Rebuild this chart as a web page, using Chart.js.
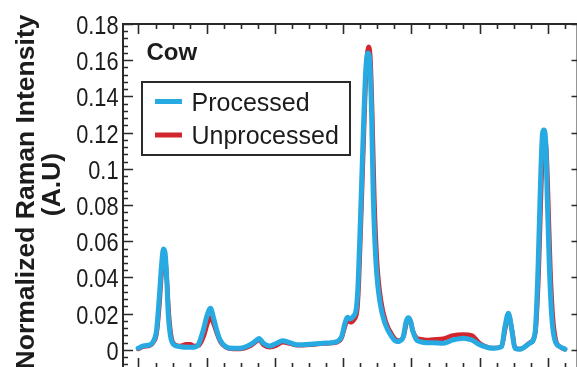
<!DOCTYPE html>
<html><head><meta charset="utf-8">
<script src="https://cdn.jsdelivr.net/npm/chart.js@4.4.0/dist/chart.umd.min.js"></script>
<style>html,body{margin:0;padding:0;overflow:hidden;background:#fff;width:577px;height:367px}canvas{display:block}</style>
</head><body><canvas id="c" width="580" height="372"></canvas>
<script>
const panelLabel = 'Cow';
const yAxisTitle = ['Normalized Raman Intensity', '(A.U)'];
const seriesNames = ['Processed', 'Unprocessed'];
const seriesColors = ['#27aae1', '#d2262e'];
const yTickValues = [0, 0.02, 0.04, 0.06, 0.08, 0.1, 0.12, 0.14, 0.16, 0.18];
const yTickLabels = ['0', '0.02', '0.04', '0.06', '0.08', '0.1', '0.12', '0.14', '0.16', '0.18'];
const xMajorTicks = [400, 600, 800, 1000, 1200, 1400, 1600];

const processedX = [399,414,434,443,453,461,468,473,478,483,487,494,504,522,541,561,575,590,600,611,619,629,639,653,678,697,727,741,753,766,785,805,822,844,864,903,941,981,995,1005,1012,1020,1029,1039,1044,1051,1059,1066,1072,1078,1083,1088,1096,1108,1122,1142,1157,1166,1176,1184,1191,1197,1203,1215,1225,1244,1264,1293,1322,1352,1376,1401,1440,1464,1474,1484,1494,1503,1518,1547,1562,1571,1578,1584,1588,1594,1598,1604,1611,1620,1635,1650];
const processedY = [0.0009,0.0022,0.0028,0.0046,0.011,0.0294,0.0479,0.0557,0.0535,0.0386,0.0204,0.0073,0.0028,0.0018,0.0015,0.0015,0.0028,0.011,0.0184,0.023,0.0184,0.011,0.0055,0.0022,0.0009,0.0009,0.0028,0.0046,0.0063,0.0037,0.0022,0.0037,0.005,0.004,0.0028,0.0031,0.0037,0.0046,0.0073,0.0147,0.018,0.0171,0.0184,0.0239,0.0386,0.0756,0.1214,0.1546,0.164,0.1584,0.1308,0.0846,0.048,0.0259,0.0149,0.0073,0.0046,0.005,0.0073,0.0155,0.0177,0.016,0.011,0.0055,0.0046,0.0039,0.004,0.0037,0.0055,0.0065,0.0055,0.0028,0.0009,0.0018,0.0129,0.0203,0.011,0.0009,0.0004,0.0037,0.0092,0.046,0.092,0.1196,0.1214,0.1122,0.0828,0.046,0.0184,0.0055,0.0018,0.0004];

const unprocessedX = [399,414,434,443,453,461,468,474,479,484,489,496,506,522,540,552,563,577,592,602,612,620,630,640,655,678,697,727,741,753,766,785,805,822,844,864,903,941,981,995,1006,1013,1021,1031,1041,1046,1053,1061,1068,1074,1080,1085,1091,1099,1111,1125,1145,1160,1168,1177,1185,1192,1198,1204,1216,1225,1244,1264,1293,1322,1352,1376,1401,1440,1464,1475,1485,1495,1504,1518,1547,1563,1573,1580,1586,1590,1596,1601,1607,1614,1623,1637,1650];
const unprocessedY = [0.0005,0.0018,0.0025,0.004,0.009,0.024,0.043,0.051,0.049,0.036,0.02,0.0075,0.003,0.0022,0.0031,0.0031,0.0022,0.0025,0.008,0.0145,0.018,0.0145,0.009,0.0045,0.0015,0.0005,0.0005,0.0022,0.004,0.0055,0.0028,0.0015,0.0025,0.0042,0.0035,0.0025,0.0028,0.0035,0.0042,0.0065,0.0135,0.0165,0.0152,0.0165,0.022,0.038,0.076,0.122,0.157,0.1675,0.16,0.131,0.085,0.049,0.027,0.0155,0.0078,0.0052,0.0055,0.0075,0.0145,0.017,0.0155,0.0105,0.0065,0.006,0.0055,0.0058,0.0062,0.008,0.0085,0.008,0.0035,0.001,0.0018,0.012,0.019,0.0105,0.0008,0.0005,0.004,0.0095,0.044,0.088,0.115,0.117,0.108,0.081,0.045,0.019,0.0055,0.0015,0.0003];

const toPoints = (xs, ys) => xs.map((x, i) => ({x, y: ys[i]}));

const FONT = '"Liberation Sans", Arial, Helvetica, sans-serif';
const INK = '#1c1c1c';

const framePlugin = {
  id: 'frame',
  afterDraw(chart) {
    const {ctx, chartArea: a, scales: {x, y}} = chart;
    ctx.save();
    // ticks
    ctx.strokeStyle = '#2a2a2a';
    ctx.lineWidth = 1.6;
    ctx.beginPath();
    yTickValues.forEach(v => {
      const py = Math.round(y.getPixelForValue(v)) + 0.5;
      ctx.moveTo(a.left, py); ctx.lineTo(a.left + 10, py);
      ctx.moveTo(a.right, py); ctx.lineTo(a.right - 6, py);
    });
    const yMinor = 0.004;
    for (let k = Math.ceil(y.min / yMinor); k <= Math.floor(y.max / yMinor + 1e-9); k++) {
      if (k % 5 === 0) continue;
      const py = Math.round(y.getPixelForValue(k * yMinor)) + 0.5;
      ctx.moveTo(a.left, py); ctx.lineTo(a.left + 5, py);
    }
    const xMinor = 50;
    for (let k = Math.ceil(x.min / xMinor); k <= Math.floor(x.max / xMinor); k++) {
      const v = k * xMinor;
      const major = xMajorTicks.includes(v);
      const len = major ? 10 : 5;
      const px = Math.round(x.getPixelForValue(v)) + 0.5;
      ctx.moveTo(px, a.top); ctx.lineTo(px, a.top + len);
      ctx.moveTo(px, a.bottom); ctx.lineTo(px, a.bottom - len);
    }
    ctx.stroke();
    // frame
    ctx.lineWidth = 2;
    ctx.strokeRect(a.left, a.top, a.right - a.left, a.bottom - a.top);

    // tick labels
    ctx.fillStyle = INK;
    ctx.font = '25px ' + FONT;
    ctx.textAlign = 'right';
    ctx.textBaseline = 'alphabetic';
    yTickValues.forEach((v, i) => {
      const py = y.getPixelForValue(v);
      ctx.save();
      ctx.translate(118.5, py + 10);
      ctx.scale(0.87, 1);
      ctx.fillText(yTickLabels[i], 0, 0);
      ctx.restore();
    });

    // axis title
    ctx.font = 'bold 26.5px ' + FONT;
    ctx.textAlign = 'center';
    ctx.save();
    ctx.translate(33.5, 192);
    ctx.rotate(-Math.PI / 2);
    ctx.fillText(yAxisTitle[0], 0, 0);
    ctx.restore();
    ctx.save();
    ctx.translate(60, 184.5);
    ctx.rotate(-Math.PI / 2);
    ctx.fillText(yAxisTitle[1], 0, 0);
    ctx.restore();

    // panel label
    ctx.textAlign = 'left';
    ctx.font = 'bold 24px ' + FONT;
    ctx.fillText(panelLabel, 146.5, 60);

    // legend
    ctx.fillStyle = '#fff';
    ctx.fillRect(142, 82, 208, 73);
    ctx.lineWidth = 2;
    ctx.strokeStyle = '#2a2a2a';
    ctx.strokeRect(142, 82, 208, 73);
    chart.data.datasets.forEach((ds, i) => {
      const ly = 101.5 + i * 33.5;
      ctx.strokeStyle = ds.borderColor;
      ctx.lineWidth = 5;
      ctx.beginPath();
      ctx.moveTo(155, ly); ctx.lineTo(182, ly);
      ctx.stroke();
      ctx.fillStyle = INK;
      ctx.font = '25px ' + FONT;
      ctx.fillText(ds.label, 191.5, ly + 9);
    });
    ctx.restore();
  }
};

new Chart(document.getElementById('c'), {
  type: 'line',
  data: {
    datasets: [
      {label: seriesNames[0], data: toPoints(processedX, processedY), borderColor: seriesColors[0], borderWidth: 5},
      {label: seriesNames[1], data: toPoints(unprocessedX, unprocessedY), borderColor: seriesColors[1], borderWidth: 4.5}
    ]
  },
  options: {
    responsive: false,
    animation: false,
    layout: {padding: {left: 123, top: 24, right: 2.5, bottom: 4}},
    elements: {
      point: {radius: 0},
      line: {cubicInterpolationMode: 'monotone', borderCapStyle: 'round', borderJoinStyle: 'round', fill: false}
    },
    plugins: {legend: {display: false}, tooltip: {enabled: false}},
    scales: {
      x: {type: 'linear', min: 354.6, max: 1686.5, display: false},
      y: {min: -0.01, max: 0.18, display: false}
    }
  },
  plugins: [framePlugin]
});
</script>
</body></html>
